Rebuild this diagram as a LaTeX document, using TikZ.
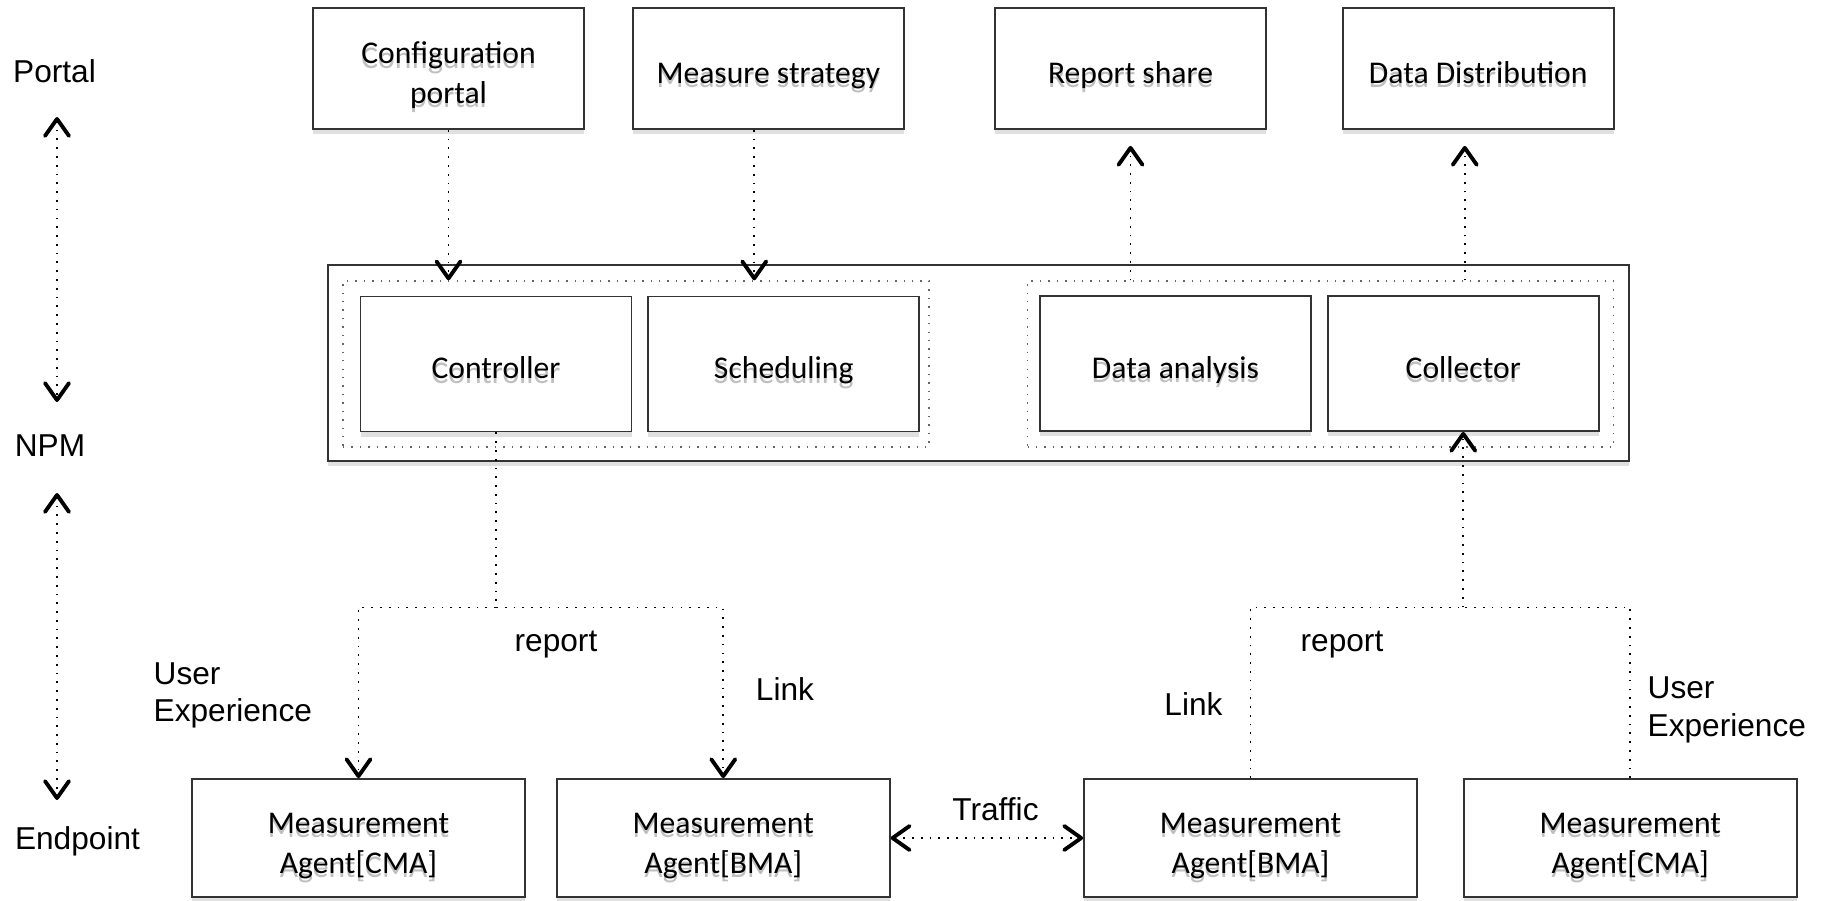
\documentclass[tikz,border=0pt]{standalone}
\usepackage{fontspec}
\setmainfont{Carlito}
\newfontfamily\tagfont{Liberation Sans}
\usetikzlibrary{positioning, arrows.meta, shadows, calc}
% grey copy under box text
\newcommand\sh[1]{\rlap{\raisebox{-1.3pt}{\color{black!25}#1}}#1}
% box text, set a little below the middle
\newcommand\btext[1]{\raisebox{-2pt}[\height][\depth]{\begin{tabular}{@{}c@{}}#1\end{tabular}}}
\tikzset{
>={Straight Barb[length=1.7mm, width=2.4mm, line width=1.1pt, round]}, % open chevron heads
box/.style={draw=black!80, line width=0.5pt, fill=white,
  minimum width=2.71cm, minimum height=1.21cm, inner sep=0pt,
  font=\fontsize{9}{11.2}\selectfont,
  drop shadow={shadow xshift=0pt, shadow yshift=-0.5mm, fill=black!12, opacity=1}}, % white boxes
agent/.style={box, minimum width=3.33cm, minimum height=1.18cm, font=\fontsize{9}{11.4}\selectfont},
group/.style={draw=black!60, dotted, line width=0.4pt, minimum width=5.86cm, minimum height=1.66cm},
tag/.style={font=\tagfont\fontsize{9}{10.6}\selectfont, align=left, inner sep=0pt}, % free labels
link/.style={dotted, line width=0.5pt}, % dotted connectors
}
\begin{document}
\begin{tikzpicture}
  \useasboundingbox (0,0) rectangle (18.21,-9.00);

  % portal row
  \node[box] (cfg) at (4.485,-0.685) {\btext{\sh{Configuration}\\\sh{portal}}};
  \node[box, right=0.47cm of cfg] (strat) {\btext{\sh{Measure strategy}}};
  \node[box] (share) at (11.305,-0.685) {\btext{\sh{Report share}}};
  \node[box, right=0.75cm of share] (distr) {\btext{\sh{Data Distribution}}};

  % NPM platform
  \node[draw=black!80, line width=0.5pt, fill=white, minimum width=13.01cm, minimum height=1.96cm,
    drop shadow={shadow xshift=0pt, shadow yshift=-0.5mm, fill=black!12, opacity=1}] (core) at (9.785,-3.63) {};
  \node[group] (inl) at (6.36,-3.64) {};
  \node[group] (inr) at (13.205,-3.64) {};
  \node[box, minimum height=1.35cm] (ctrl) at (4.96,-3.64) {\btext{\sh{Controller}}};
  \node[box, minimum height=1.35cm, right=0.15cm of ctrl] (sched) {\btext{\sh{Scheduling}}};
  \node[box, minimum height=1.35cm] (ana) at (11.755,-3.635) {\btext{\sh{Data analysis}}};
  \node[box, minimum height=1.35cm, right=0.15cm of ana] (coll) {\btext{\sh{Collector}}};

  % endpoints
  \node[agent] (cmal) at (3.585,-8.38) {\btext{\sh{Measurement}\\\sh{Agent[CMA]}}};
  \node[agent, right=0.30cm of cmal] (bmal) {\btext{\sh{Measurement}\\\sh{Agent[BMA]}}};
  \node[agent] (bmar) at (12.505,-8.38) {\btext{\sh{Measurement}\\\sh{Agent[BMA]}}};
  \node[agent, right=0.45cm of bmar] (cmar) {\btext{\sh{Measurement}\\\sh{Agent[CMA]}}};

  % tier labels
  \node[tag] (portal) at (0.545,-0.715) {Portal};
  \node[tag] (npmtag) at (0.50,-4.46) {NPM};
  \node[tag] (endp) at (0.775,-8.41) {Endpoint};
  \coordinate (t1) at (0.57,-1.17);
  \coordinate (t2) at (0.57,-4.02);
  \coordinate (t3) at (0.57,-4.93);
  \coordinate (t4) at (0.57,-8.00);
  \draw[link, <->] (t1) -- (t2);
  \draw[link, <->] (t3) -- (t4);

  % edge labels
  \node[tag, anchor=west] (uel) at (1.53,-6.955) {User\\Experience};
  \node[tag] (repl) at (5.56,-6.45) {report};
  \node[tag] (linkl) at (7.85,-6.89) {Link};
  \node[tag] (linkr) at (11.935,-7.04) {Link};
  \node[tag] (repr) at (13.42,-6.45) {report};
  \node[tag, anchor=west] (uer) at (16.47,-7.10) {User\\Experience};
  \node[tag] (traffic) at (9.955,-8.09) {Traffic};

  % portal <-> NPM
  \coordinate (sx) at ([xshift=-1.4mm]strat.south);
  \coordinate (dx) at ([xshift=-1.35mm, yshift=-1.6mm]distr.south);
  \coordinate (rx) at ([yshift=-1.6mm]share.south);
  \draw[link, ->] (cfg.south) -- (cfg.south |- inl.north);
  \draw[link, ->] (sx) -- (sx |- inl.north);
  \draw[link, ->] (rx |- inr.north) -- (rx);
  \draw[link, ->] (dx |- inr.north) -- (dx);

  % NPM <-> endpoints
  \coordinate (lfork) at ($(ctrl.south)+(0,-1.75)$);
  \coordinate (rfork) at (coll.south |- lfork);
  \draw[link] (ctrl.south) -- (lfork);
  \draw[link, ->] (lfork) -| (cmal.north);
  \draw[link, ->] (lfork) -| (bmal.north);
  \draw[link] (bmar.north) |- (rfork);
  \draw[link] (cmar.north) |- (rfork);
  \draw[link, ->] (rfork) -- (coll.south);
  \draw[link, <->] (bmal.east) -- (bmar.west);
\end{tikzpicture}
\end{document}
